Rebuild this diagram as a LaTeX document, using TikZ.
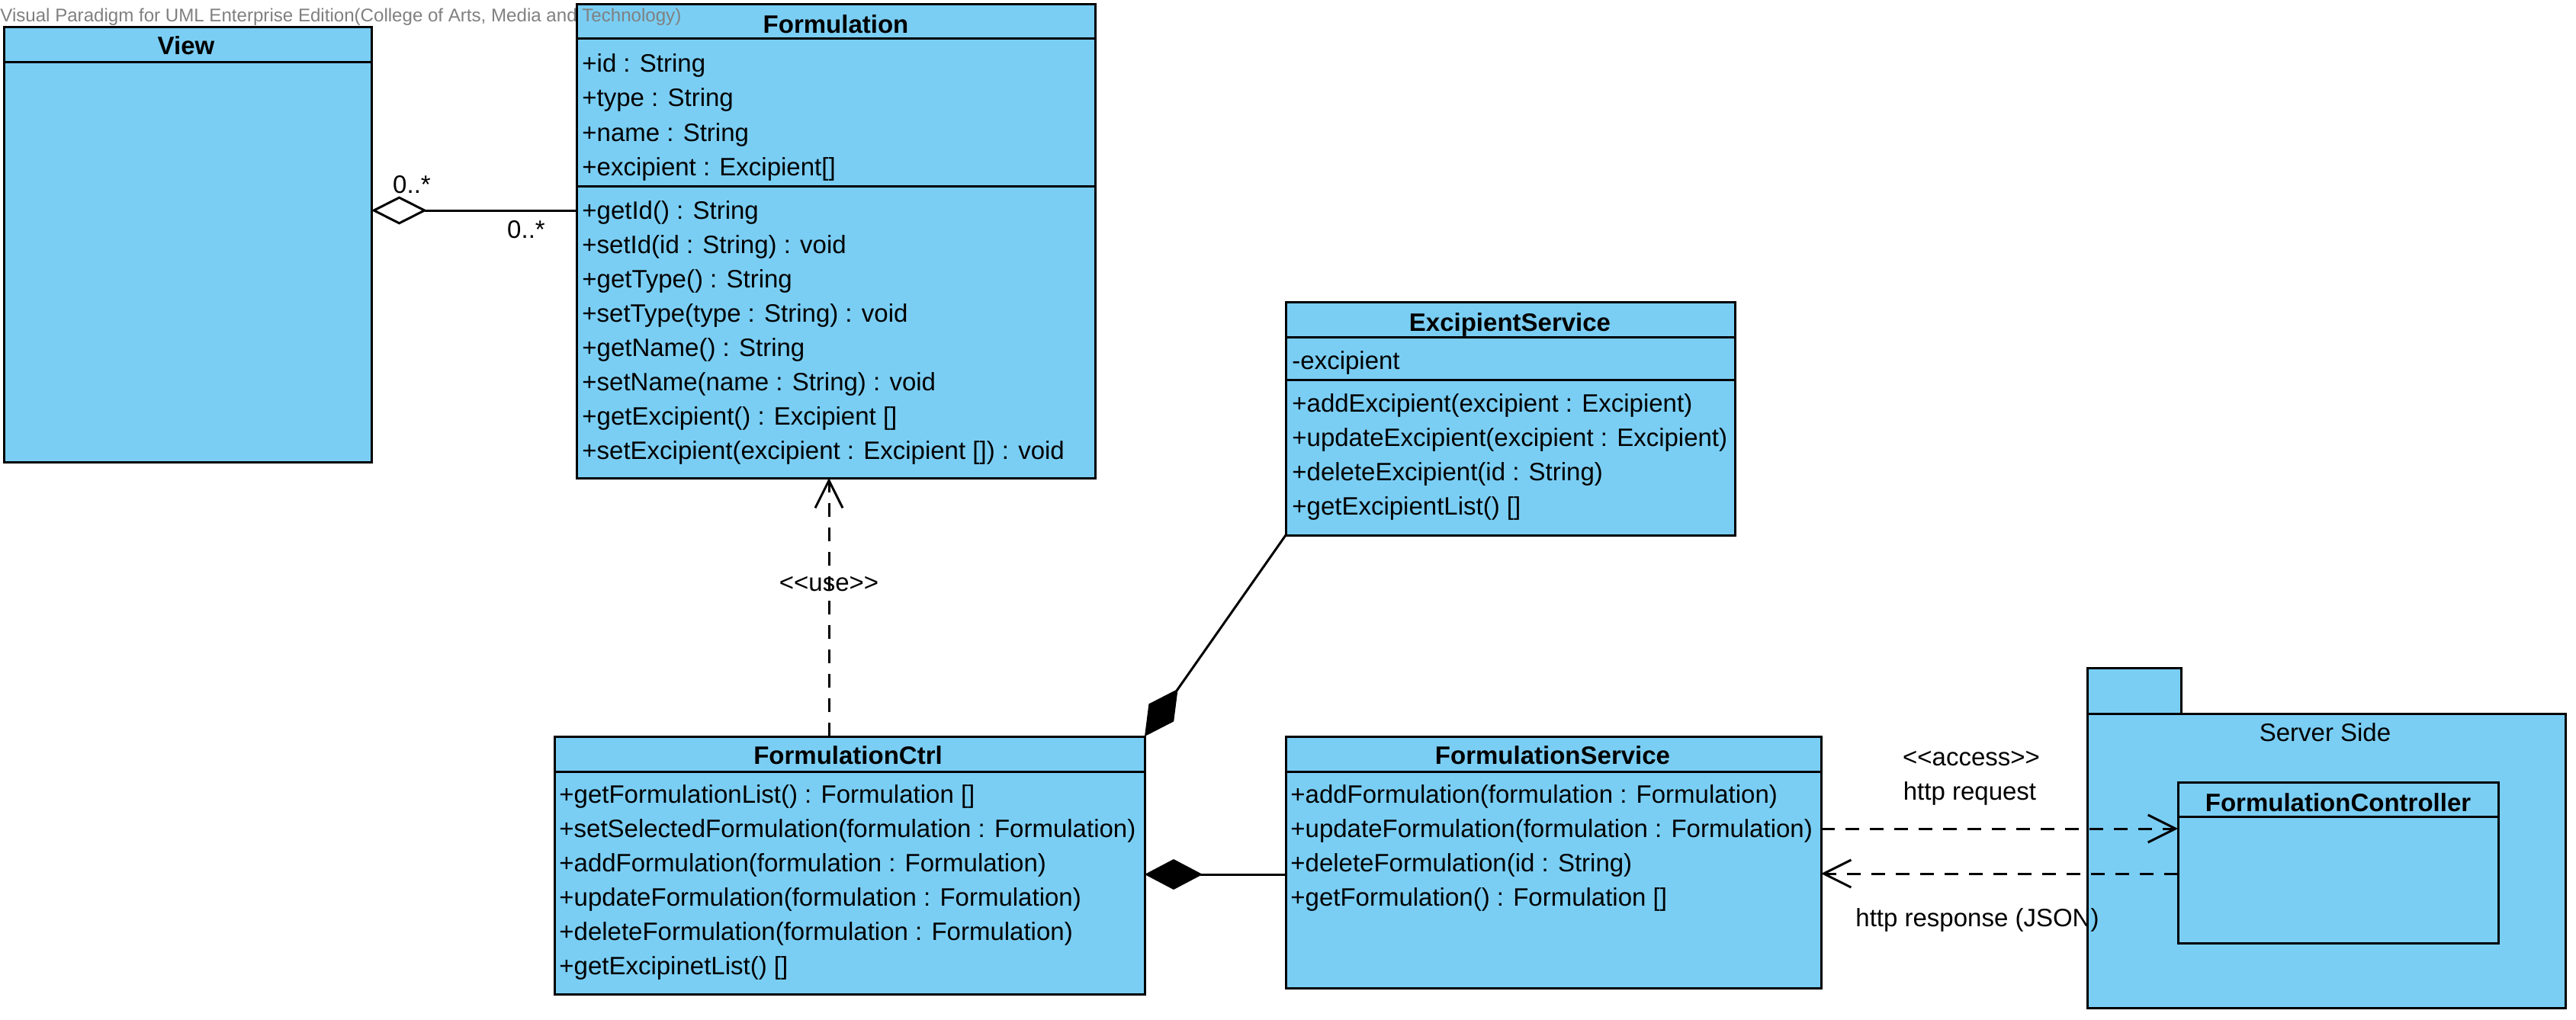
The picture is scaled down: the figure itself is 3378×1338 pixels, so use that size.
\documentclass[tikz,border=0pt]{standalone}
\usepackage{fontspec}
\setmainfont{Liberation Sans}
\usetikzlibrary{arrows.meta,calc}
\definecolor{classfill}{RGB}{122,206,244}
\definecolor{markgray}{RGB}{128,128,128}
\tikzset{
  classbox/.style={draw=black, fill=classfill, line width=1.5pt, rectangle,
    inner sep=0pt, outer sep=0pt, anchor=north west},
  divider/.style={line width=1.5pt},
  member/.style={anchor=base west, inner sep=0pt, yshift=-2pt, font=\fontsize{16.5}{19}\selectfont},
  classtitle/.style={anchor=base, inner sep=0pt, yshift=-2pt, font=\fontsize{16.5}{19}\selectfont\bfseries},
  plainlabel/.style={anchor=base, inner sep=0pt, yshift=-2pt, font=\fontsize{16.5}{19}\selectfont},
  assoc/.style={line width=1.5pt},
  aggregation/.style={assoc, -{Diamond[open,length=36.5pt,width=18.5pt]}},
  composition/.style={assoc, -{Diamond[length=38pt,width=20pt]}},
  depline/.style={line width=1.5pt, dash pattern=on 9pt off 7pt,
    -{Straight Barb[length=18pt,width=18pt]}},
  watermark/.style={anchor=base west, inner sep=0pt, text=markgray,
    font=\fontsize{12.05}{14}\selectfont}
}
% box from (left,top) to (right,bottom), pixel-like units
\newcommand\umlbox[5]{%
  \node[classbox, minimum width={0.5pt*(#4-#2)}, minimum height={0.5pt*(#5-#3)}]
    (#1) at (#2,#3) {};}
% compartment divider at a given height
\newcommand\umlrule[2]{\draw[divider] (#1.west |- 0,#2) -- (#1.east |- 0,#2);}
% list of members, one per row, 45 units apart
\newcommand\memberlist[4]{%
  \foreach \mtext [count=\k] in {#4} {\node[member] (#1-\k) at (#2,{#3+45*(\k-1)}) {\mtext};}}

\begin{document}
\begin{tikzpicture}[x=0.5pt,y=-0.5pt]
\useasboundingbox[fill=white] (0,0) rectangle (3378,1338);

% ---------- View ----------
\umlbox{view}{5}{36}{487}{606}
\umlrule{view}{82}
\node[classtitle] (view-title) at (244,68) {View};

% ---------- Formulation ----------
\umlbox{fm}{756}{6}{1436}{627}
\umlrule{fm}{51}
\umlrule{fm}{244}
\node[classtitle] (fm-title) at (1096,40) {Formulation};
\memberlist{fma}{763}{91}{{+id : String},{+type : String},{+name : String},{+excipient : Excipient[]}}
\memberlist{fmo}{763}{283}{{+getId() : String},{+setId(id : String) : void},{+getType() : String},
  {+setType(type : String) : void},{+getName() : String},{+setName(name : String) : void},
  {+getExcipient() : Excipient []},{+setExcipient(excipient : Excipient []) : void}}

% ---------- ExcipientService ----------
\umlbox{exc}{1686}{396}{2275}{702}
\umlrule{exc}{442}
\umlrule{exc}{498}
\node[classtitle] (exc-title) at (1980,430) {ExcipientService};
\node[member] (exc-attr) at (1694,480) {-excipient};
\memberlist{exco}{1694}{536}{{+addExcipient(excipient : Excipient)},{+updateExcipient(excipient : Excipient)},
  {+deleteExcipient(id : String)},{+getExcipientList() []}}

% ---------- FormulationCtrl ----------
\umlbox{ctrl}{727}{966}{1501}{1304}
\umlrule{ctrl}{1012}
\node[classtitle] (ctrl-title) at (1112,998) {FormulationCtrl};
\memberlist{ctrlo}{733}{1049}{{+getFormulationList() : Formulation []},
  {+setSelectedFormulation(formulation : Formulation)},
  {+addFormulation(formulation : Formulation)},
  {+updateFormulation(formulation : Formulation)},
  {+deleteFormulation(formulation : Formulation)},
  {+getExcipinetList() []}}

% ---------- FormulationService ----------
\umlbox{fs}{1686}{966}{2388}{1296}
\umlrule{fs}{1012}
\node[classtitle] (fs-title) at (2036,998) {FormulationService};
\memberlist{fso}{1692}{1049}{{+addFormulation(formulation : Formulation)},
  {+updateFormulation(formulation : Formulation)},
  {+deleteFormulation(id : String)},
  {+getFormulation() : Formulation []}}

% ---------- Server Side package ----------
\umlbox{pkgtab}{2737}{876}{2860}{936}
\umlbox{pkg}{2737}{936}{3364}{1322}
\node[plainlabel] (pkg-title) at (3049,968) {Server Side};
\umlbox{fc}{2856}{1026}{3276}{1237}
\umlrule{fc}{1071}
\node[classtitle] (fc-title) at (3066,1060) {FormulationController};

% ---------- connectors ----------
\draw[aggregation] (fm.west |- 0,276) -- (view.east |- 0,276);
\node[plainlabel] (mult-view) at (540,249) {0..*};
\node[plainlabel] (mult-fm) at (690,308) {0..*};

\draw[depline] (ctrl.north -| 1087,0) -- (fm.south -| 1087,0);
\node[plainlabel] (use-label) at (1087,771) {<{}<use>{}>};

\draw[composition] (exc.south west) -- (ctrl.north east);
\draw[composition] (fs.west |- 0,1147) -- (ctrl.east |- 0,1147);

\draw[depline] (fs.east |- 0,1087) -- (fc.west |- 0,1087);
\draw[depline] (fc.west |- 0,1146) -- (fs.east |- 0,1146);
\node[plainlabel] (access-label) at (2585,1000) {<{}<access>{}>};
\node[plainlabel] (request-label) at (2583,1045) {http request};
\node[plainlabel] (response-label) at (2593,1211) {http response (JSON)};
% package border stays on top of the response label
\draw[divider] (pkg.north west) -- (pkg.south west);

% ---------- tool banner ----------
\node[watermark] (banner) at (0,29) {Visual Paradigm for UML Enterprise Edition(College of Arts, Media and Technology)};
\end{tikzpicture}
\end{document}
